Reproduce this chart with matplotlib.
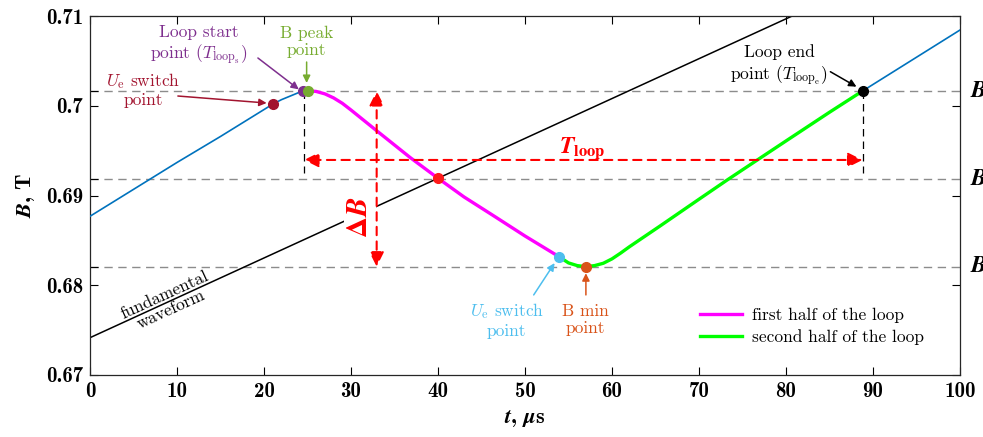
import matplotlib
matplotlib.use("Agg")
import matplotlib.pyplot as plt
from matplotlib.ticker import FixedLocator, NullFormatter
import matplotlib.transforms as mtransforms

plt.rcParams['mathtext.fontset'] = 'cm'
plt.rcParams['font.family'] = ['cmr10', 'DejaVu Serif']
plt.rcParams['axes.formatter.use_mathtext'] = True

# ---------------- data ----------------
t_rise1 = [0, 5, 10, 15, 20, 21, 22, 23, 24, 24.5, 25.1]
B_rise1 = [0.6877, 0.6907, 0.6937, 0.6966, 0.6996, 0.7002, 0.7007, 0.7011, 0.7015, 0.70165, 0.7017]

t_first = [25.1, 26, 27, 28, 29, 30, 33, 36.8, 40, 43, 46.4, 50, 53.9]
B_first = [0.7017, 0.70162, 0.70135, 0.7009, 0.7003, 0.69955, 0.6972, 0.69425,
           0.69194, 0.68985, 0.68775, 0.6855, 0.6832]

t_second = [53.9, 55, 56, 57, 58, 59, 60, 61, 62, 65.5, 70, 73.2, 77, 80, 85, 88.8]
B_second = [0.6832, 0.6825, 0.6822, 0.68208, 0.6822, 0.68246, 0.68295, 0.6836, 0.6843, 0.6866,
            0.6896, 0.69172, 0.69417, 0.6961, 0.6993, 0.70167]

t_rise2 = [88.8, 100]
B_rise2 = [0.70167, 0.70847]

fund_t = [0, 40, 85]
fund_B = [0.67416, 0.69194, 0.71194]

B_levels = [0.70167, 0.69187, 0.68208]
level_names = [r'$\mathbfit{B}_{\mathbf{max}}$', r'$\mathbfit{B}_{\mathbf{mean}}$', r'$\mathbfit{B}_{\mathbf{min}}$']

t_loop_start = 24.6
t_loop_end = 88.8
t_loop_arrow_B = 0.69398
dB_arrow_t = 32.95

pt_ue1 = (21.0, 0.70022)
pt_start = (24.5, 0.70166)
pt_peak = (25.1, 0.7017)
pt_cross = (40.0, 0.69194)
pt_ue2 = (53.9, 0.6832)
pt_min = (57.0, 0.68208)
pt_end = (88.8, 0.70167)

xticks = [0, 10, 20, 30, 40, 50, 60, 70, 80, 90, 100]
yticks = [0.67, 0.68, 0.69, 0.70, 0.71]
ytick_labels = ['0.67', '0.68', '0.69', '0.7', '0.71']

# colours
c_blue = '#0072BD'
c_mag = '#FF00FF'
c_green = '#00FF00'
c_darkred = '#A2142F'
c_purple = '#7E2F8E'
c_olive = '#77AC30'
c_lblue = '#4DBEEE'
c_orange = '#D95319'
c_grid = '#8C8C8C'

# ---------------- figure ----------------
fig = plt.figure(figsize=(9.83, 4.37), dpi=100)
ax = fig.add_axes([90 / 983, 62 / 437, 870 / 983, 358.7 / 437])
ax.set_xlim(0, 100)
ax.set_ylim(0.67, 0.71)

# level dashed lines
for lv in B_levels:
    ax.plot([0, 100], [lv, lv], color=c_grid, lw=1.0, dashes=(6, 4), zorder=1)

# vertical black dashed lines at loop start / end
ax.plot([t_loop_start, t_loop_start], [B_levels[0], 0.6925], color='k', lw=0.9, dashes=(6, 4), zorder=1)
ax.plot([t_loop_end, t_loop_end], [B_levels[0], 0.6925], color='k', lw=0.9, dashes=(6, 4), zorder=1)

# curves
ax.plot(fund_t, fund_B, color='k', lw=1.1, zorder=2)
ax.plot(t_rise1, B_rise1, color=c_blue, lw=1.2, zorder=3)
ax.plot(t_rise2, B_rise2, color=c_blue, lw=1.2, zorder=3)
l1, = ax.plot(t_first, B_first, color=c_mag, lw=2.4, zorder=3, label='first half of the loop')
l2, = ax.plot(t_second, B_second, color=c_green, lw=2.4, zorder=3, label='second half of the loop')

# points
for (pt, c) in [(pt_ue1, c_darkred), (pt_start, c_purple), (pt_peak, c_olive), (pt_cross, '#FF1A1A'),
                (pt_ue2, c_lblue), (pt_min, c_orange), (pt_end, 'k')]:
    ax.plot([pt[0]], [pt[1]], 'o', color=c, ms=7, zorder=6)

# T_loop arrow
ax.annotate('', xy=(t_loop_start, t_loop_arrow_B), xytext=(t_loop_end, t_loop_arrow_B),
            arrowprops=dict(arrowstyle='<|-|>', color='red', lw=1.5, linestyle=(0, (4, 3)),
                            mutation_scale=22, shrinkA=0, shrinkB=0), zorder=5)
ax.text(56.6, 0.6953, r'$\mathbfit{T}_{\mathbf{loop}}$', color='red', fontsize=17,
        math_fontfamily='stix', ha='center', va='center', zorder=5)

# Delta B arrow
ax.annotate('', xy=(dB_arrow_t, B_levels[0]), xytext=(dB_arrow_t, B_levels[2]),
            arrowprops=dict(arrowstyle='<|-|>', color='red', lw=1.5, linestyle=(0, (4, 3)),
                            mutation_scale=22, shrinkA=0, shrinkB=0), zorder=5)
ax.text(31.0, 0.6876, r'$\mathbf{\Delta}\mathbfit{B}$', color='red', fontsize=21, rotation=90,
        math_fontfamily='stix', ha='center', va='center', zorder=4,
        bbox=dict(facecolor='white', edgecolor='none', pad=2))

# fundamental waveform label
ax.text(9.0, 0.6781, 'fundamental\nwaveform', fontsize=12.5, rotation=24.6, rotation_mode='anchor',
        ha='center', va='center', linespacing=1.0, zorder=4)

# annotations
def note(txt, pos, color, tail, head):
    ax.text(pos[0], pos[1], txt, color=color, fontsize=12.5, ha='center', va='center',
            linespacing=1.15, zorder=7)
    ax.annotate('', xy=head, xytext=tail,
                arrowprops=dict(arrowstyle='-|>', color=color, lw=1.1, mutation_scale=11,
                                shrinkA=0, shrinkB=0), zorder=7)

note('$U_{\\mathrm{e}}$ switch\npoint', (6.1, 0.7018), c_darkred, (10.1, 0.70111), (20.3, 0.70033))
note('Loop start\npoint ($T_{\\mathrm{loop}_{\\mathrm{s}}}$)', (12.5, 0.70672), c_purple,
     (19.3, 0.70535), (24.0, 0.70185))
note('B peak\npoint', (24.9, 0.70713), c_olive, (24.9, 0.7049), (24.9, 0.70256))
note('Loop end\npoint ($T_{\\mathrm{loop}_{\\mathrm{e}}}$)', (79.2, 0.70446), 'k',
     (85.1, 0.70382), (88.1, 0.70215))
note('$U_{\\mathrm{e}}$ switch\npoint', (47.9, 0.67614), c_lblue, (51.0, 0.67893), (53.4, 0.68248))
note('B min\npoint', (56.9, 0.67614), c_orange, (57.0, 0.67893), (57.0, 0.68135))

# legend
ax.legend(handles=[l1, l2], loc='center left', bbox_to_anchor=(0.7011, 0.1366), frameon=False,
          borderpad=0, borderaxespad=0, fontsize=12.5, handlelength=2.45, handletextpad=0.55,
          labelspacing=0.35)

# ticks
ax.set_xticks(xticks)
ax.set_xticklabels([str(v) for v in xticks], fontfamily='cmb10', fontsize=15)
ax.set_yticks(yticks)
ax.set_yticklabels(ytick_labels, fontfamily='cmb10', fontsize=15)
ax.yaxis.set_minor_locator(FixedLocator(B_levels))
ax.yaxis.set_minor_formatter(NullFormatter())
ax.tick_params(which='major', direction='in', length=5.5, width=0.8, top=True, right=True, pad=5)
ax.tick_params(axis='y', which='minor', direction='in', length=5.5, width=0.8, left=True, right=False)
for s in ax.spines.values():
    s.set_color('#262626')
    s.set_linewidth(0.9)

# right-hand level labels
trans = mtransforms.blended_transform_factory(ax.transAxes, ax.transData)
for lv, nm in zip(B_levels, level_names):
    ax.text(1.012, lv, nm, transform=trans, fontsize=17, math_fontfamily='stix',
            ha='left', va='center', clip_on=False)

ax.set_xlabel(r'$\mathbfit{t}$, $\mathbfit{\mu}$s', fontfamily='cmb10', fontsize=16,
              math_fontfamily='stix', labelpad=5)
ax.set_ylabel(r'$\mathbfit{B}$, T', fontfamily='cmb10', fontsize=16, math_fontfamily='stix',
              labelpad=6)

fig.savefig('out.png', dpi=100)
